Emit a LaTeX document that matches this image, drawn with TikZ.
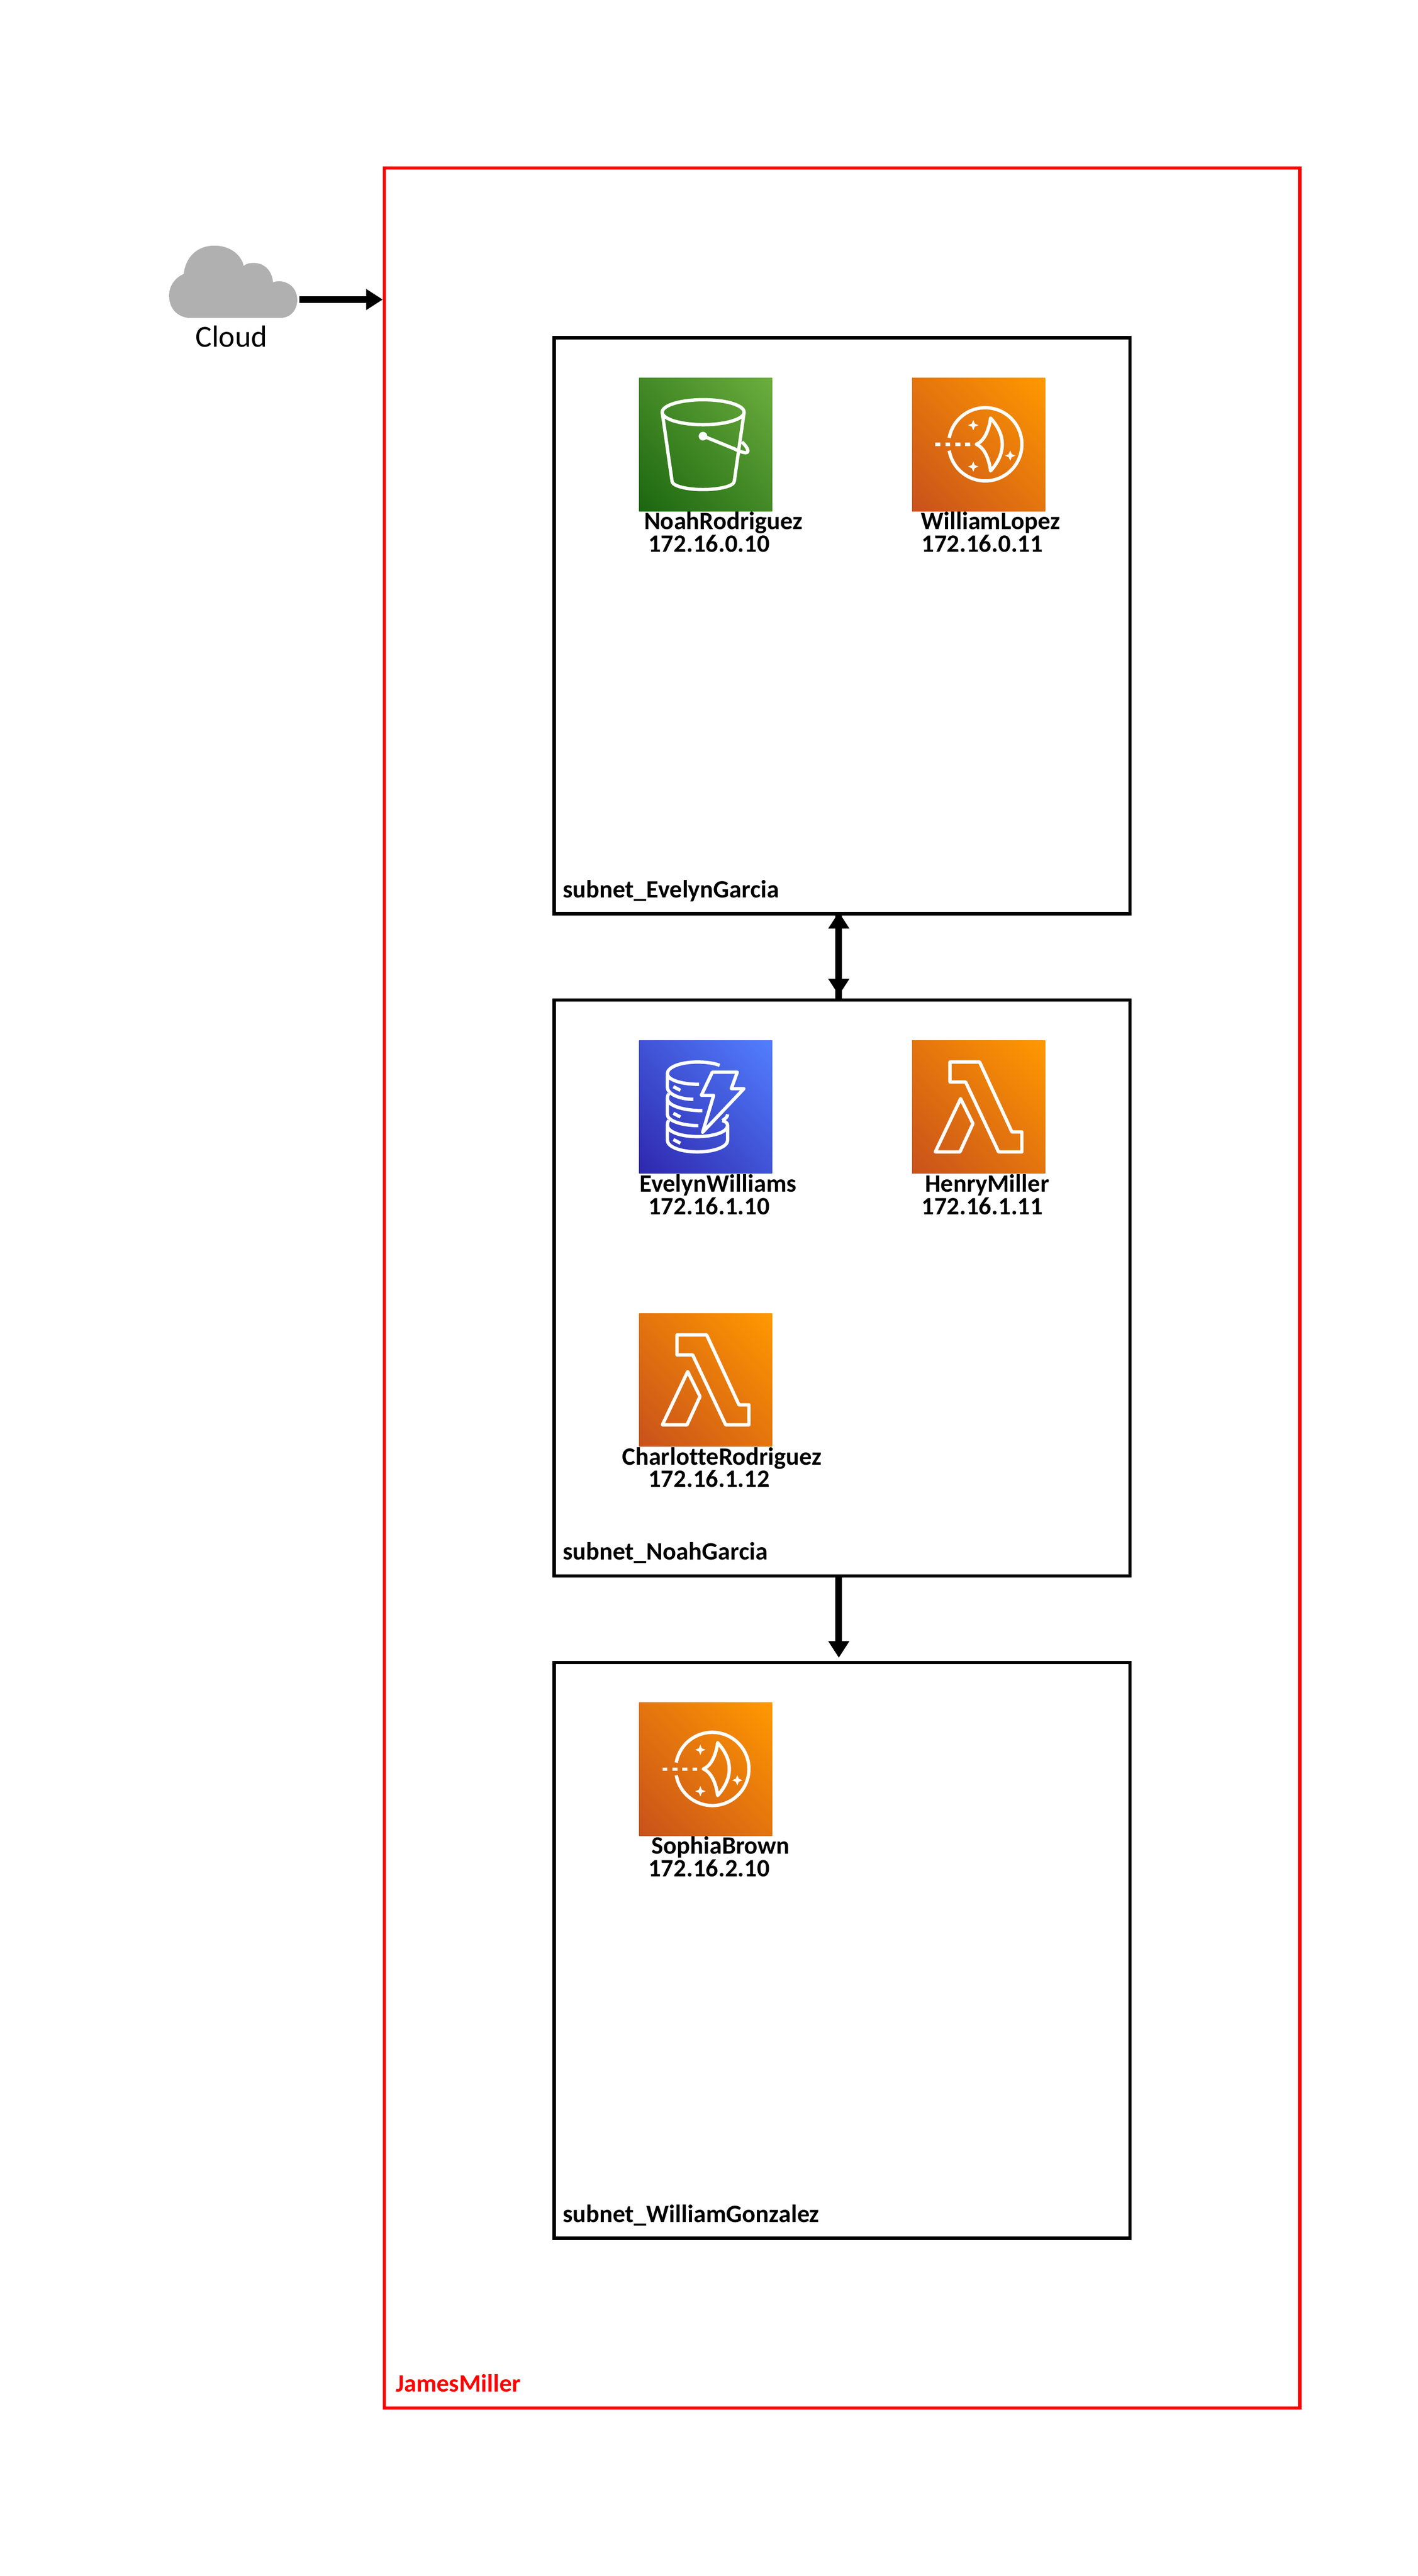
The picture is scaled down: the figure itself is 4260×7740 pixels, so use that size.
\documentclass[tikz,border=0pt]{standalone}
\usepackage{fontspec}
\setmainfont{Carlito}[Ligatures=NoCommon]
\usetikzlibrary{arrows.meta,shadings}

\definecolor{cloudgrey}{RGB}{176,176,176}
\definecolor{orangelow}{HTML}{C8511B}
\definecolor{orangehigh}{HTML}{FF9900}
\definecolor{greenlow}{HTML}{1B660F}
\definecolor{greenhigh}{HTML}{6CAE3E}
\definecolor{bluelow}{HTML}{2E27AD}
\definecolor{bluehigh}{HTML}{527FFF}
\colorlet{orangemid}{orangelow!50!orangehigh}
\colorlet{greenmid}{greenlow!50!greenhigh}
\colorlet{bluemid}{bluelow!50!bluehigh}

\tikzset{
    vpcbox/.style={draw=red,line width=2pt,rectangle,anchor=north west,inner sep=0pt,outer sep=0pt,minimum width=550pt,minimum height=1346pt},
    subnetbox/.style={draw=black,line width=2pt,rectangle,anchor=north west,inner sep=0pt,outer sep=0pt,minimum width=346pt,minimum height=346pt},
    iconbox/.style={rectangle,anchor=north west,inner sep=0pt,outer sep=0pt,minimum width=80pt,minimum height=80pt},
    iconorange/.style={iconbox,lower left=orangelow,upper right=orangehigh,lower right=orangemid,upper left=orangemid},
    icongreen/.style={iconbox,lower left=greenlow,upper right=greenhigh,lower right=greenmid,upper left=greenmid},
    iconblue/.style={iconbox,lower left=bluelow,upper right=bluehigh,lower right=bluemid,upper left=bluemid},
    hostlabel/.style={anchor=base west,inner sep=0pt,font=\fontsize{15}{18}\selectfont\bfseries},
    fatarrow/.style={line width=4pt,-{Triangle[length=10pt,width=12pt]}},
    glyphline/.style={draw=white,line width=2pt,line join=round},
    pics/lambdaglyph/.style={code={
        \draw[glyphline] (114,65) -- (203,65) -- (300,275) -- (330,275) -- (330,335) -- (260,335) -- (161,125) -- (114,125) -- cycle;
        \draw[glyphline] (146,175) -- (183,250) -- (144,335) -- (70,335) -- cycle;
    }},
    pics/sparkle/.style={code={
        \fill[white] (0,-15.5) -- (4.5,-4.5) -- (15.5,0) -- (4.5,4.5) -- (0,15.5) -- (-4.5,4.5) -- (-15.5,0) -- (-4.5,-4.5) -- cycle;
    }},
    pics/mlglyph/.style={code={
        \draw[glyphline] (220,199) ++(190:110) arc[start angle=190,end angle=530,radius=110];
        \draw[draw=white,line width=2pt,dash pattern=on 3pt off 3pt] (70,199.5) -- (175,199.5);
        \draw[glyphline] (193,199) .. controls (220,188) and (232,150) .. (236,120) .. controls (258,145) and (271,170) .. (271,199) .. controls (271,228) and (258,254) .. (236,279) .. controls (232,248) and (220,210) .. cycle;
        \pic at (184,141.5) {sparkle};
        \pic at (184,266) {sparkle};
        \pic at (295,233) {sparkle};
    }},
    pics/bucketglyph/.style={code={
        \draw[glyphline] (192.5,102.5) ellipse (123 and 37.5);
        \draw[glyphline] (69.5,102.5) -- (99,310) .. controls (100,325) and (145,335) .. (192,335) .. controls (240,335) and (285,325) .. (286,310) -- (315.5,102.5);
        \fill[white] (192,174.5) circle (13);
        \draw[glyphline] (192,174) -- (285,212) .. controls (300,220) and (322,228) .. (326,222) .. controls (330,215) and (318,200) .. (309,192);
    }},
    pics/dynamoglyph/.style={code={
        \draw[glyphline] (242,75) .. controls (225,68) and (200,65) .. (175,65) .. controls (125,65) and (85,80) .. (85,100) .. controls (85,118) and (125,132) .. (180,132);
        \draw[glyphline] (85,100) -- (85,141) .. controls (85,160) and (120,177) .. (163,177);
        \draw[glyphline] (89,160) .. controls (86,165) and (85,170) .. (85,175) .. controls (85,195) and (130,211) .. (190,211);
        \draw[glyphline] (85,175) -- (85,223) .. controls (85,240) and (125,256) .. (178,256);
        \draw[glyphline] (89,240) .. controls (86,245) and (85,250) .. (85,255) .. controls (85,275) and (125,289) .. (175,289) .. controls (225,289) and (266,275) .. (266,255) -- (266,300) .. controls (266,320) and (225,335) .. (175,335) .. controls (125,335) and (85,320) .. (85,300) -- (85,255);
        \draw[glyphline] (266,222) .. controls (266,230) and (258,236) .. (250,241);
        \draw[glyphline] (250,241) .. controls (258,243) and (266,248) .. (266,255);
        \draw[glyphline] (103,139) -- (124,150);
        \draw[glyphline] (103,219) -- (124,230);
        \draw[glyphline] (103,298) -- (124,309);
        \draw[glyphline] (220,95.5) -- (295,95.5) -- (277,145) -- (315,145) -- (191,276) -- (224,165) -- (187,165) -- cycle;
    }}
}

\begin{document}
\begin{tikzpicture}[x=0.2pt,y=-0.2pt]
    \useasboundingbox (0,0) rectangle (4260,7740);

        \node[vpcbox] (jamesvpc) at (1155,505) {};
        \node[subnetbox] (evelyngarcia) at (1665,1015) {};
        \node[subnetbox] (noahgarcia) at (1665,3005) {};
        \node[subnetbox] (williamgonzalez) at (1665,4995) {};

        \fill[cloudgrey] (564,955) .. controls (530,950) and (508,925) .. (508,888) .. controls (508,860) and (525,835) .. (552,823) .. controls (558,770) and (595,738) .. (644,738) .. controls (690,738) and (725,765) .. (732,799) .. controls (740,792) and (750,790) .. (762,790) .. controls (795,790) and (818,815) .. (820,848) .. controls (826,846) and (832,845) .. (840,845) .. controls (872,847) and (893,870) .. (893,901) .. controls (893,930) and (875,952) .. (848,955) -- cycle;
        \node[anchor=base,inner sep=0pt,font=\fontsize{18.4}{22}\selectfont] (cloudname) at (695,1043) {Cloud};
        \coordinate (cloudout) at (900,900);
        \node[anchor=base west,inner sep=0pt,text=red,font=\fontsize{15}{18}\selectfont\bfseries] (vpcname) at (1188,7187) {JamesMiller};

        \node[icongreen] (noahrodriguez) at (1920,1136) {};
        \pic at (noahrodriguez.north west) {bucketglyph};
        \node[iconorange] (williamlopez) at (2740,1136) {};
        \pic at (williamlopez.north west) {mlglyph};
        \node[iconblue] (evelynwilliams) at (1920,3126) {};
        \pic at (evelynwilliams.north west) {dynamoglyph};
        \node[iconorange] (henrymiller) at (2740,3126) {};
        \pic at (henrymiller.north west) {lambdaglyph};
        \node[iconorange] (charlotterodriguez) at (1920,3946) {};
        \pic at (charlotterodriguez.north west) {lambdaglyph};
        \node[iconorange] (sophiabrown) at (1920,5116) {};
        \pic at (sophiabrown.north west) {mlglyph};

        \node[hostlabel] (noahname) at (1934,1591) {NoahRodriguez};
        \node[hostlabel] (noahip) at (1947,1659) {172.16.0.10};
        \node[hostlabel] (williamname) at (2766,1591) {WilliamLopez};
        \node[hostlabel] (williamip) at (2768,1659) {172.16.0.11};
        \node[hostlabel] (evelynname) at (1921,3581) {EvelynWilliams};
        \node[hostlabel] (evelynip) at (1947,3649) {172.16.1.10};
        \node[hostlabel] (henryname) at (2778,3581) {HenryMiller};
        \node[hostlabel] (henryip) at (2768,3649) {172.16.1.11};
        \node[hostlabel] (charlottename) at (1868,4401) {CharlotteRodriguez};
        \node[hostlabel] (charlotteip) at (1947,4468) {172.16.1.12};
        \node[hostlabel] (sophianame) at (1956,5571) {SophiaBrown};
        \node[hostlabel] (sophiaip) at (1947,5638) {172.16.2.10};

        \node[hostlabel] (evelynsubnet) at (1690,2697) {subnet\_EvelynGarcia};
        \node[hostlabel] (noahsubnet) at (1690,4687) {subnet\_NoahGarcia};
        \node[hostlabel] (williamsubnet) at (1690,6677) {subnet\_WilliamGonzalez};

        \draw[fatarrow,shorten >=1pt] (cloudout) -- (cloudout -| jamesvpc.west);
        \draw[fatarrow,shorten >=-1pt] ([xshift=-2pt]noahgarcia.north) -- ([xshift=-2pt]evelyngarcia.south);
        \draw[fatarrow,shorten >=2.8pt] ([xshift=-2pt]evelyngarcia.south) -- ([xshift=-2pt]noahgarcia.north);
        \draw[fatarrow,shorten >=2.8pt] ([xshift=-2pt]noahgarcia.south) -- ([xshift=-2pt]williamgonzalez.north);
    \end{tikzpicture}
\end{document}
